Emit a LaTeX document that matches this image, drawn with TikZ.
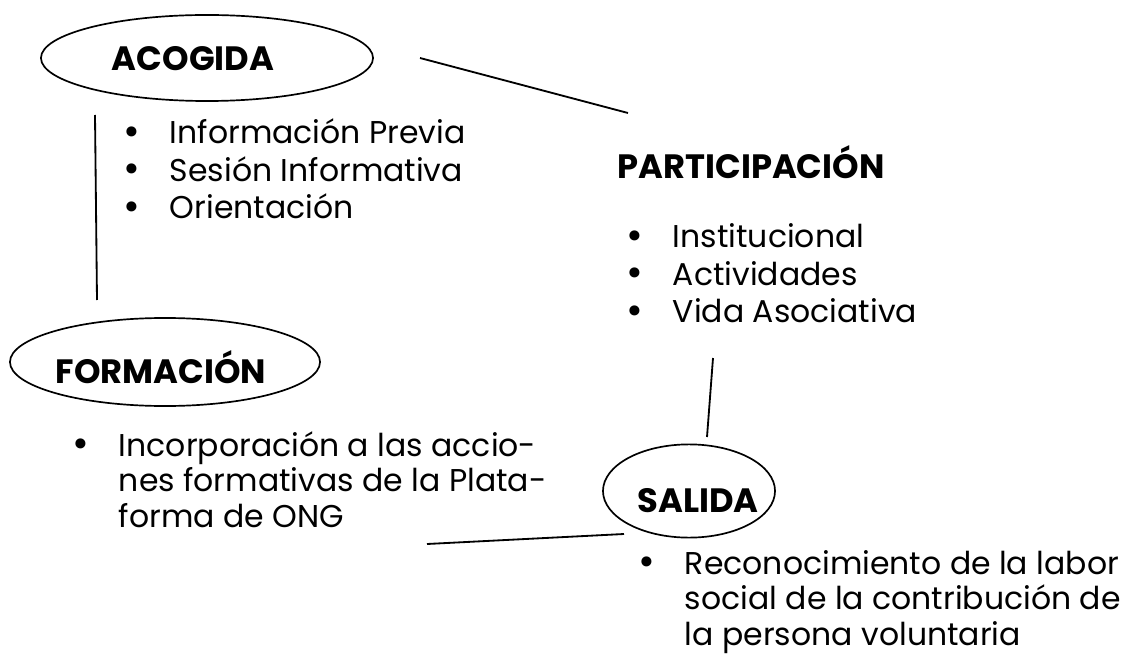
\documentclass[tikz,border=0pt]{standalone}
\usepackage{fontspec}
\setmainfont{Poppins}
\usetikzlibrary{shapes.geometric}

\newcommand{\itemrow}{\makebox[1.15cm][l]{\raisebox{-0.1ex}[0pt][0pt]{\fontsize{29}{0}\selectfont •}}}

\begin{document}
\begin{tikzpicture}[x=0.025cm, y=-0.025cm, line width=1.3pt,
                    stage node/.style={ellipse,draw,line width=1.2pt,inner sep=0pt},
                    title node/.style={font=\bfseries\fontsize{24}{28}\selectfont,inner sep=0pt},
                    list node/.style={anchor=base west,inner sep=0pt,font=\fontsize{22.4}{26.5}\selectfont}]

  \useasboundingbox (0,0) rectangle (1122,669);

  \node[stage node,minimum width=8.3cm,minimum height=2.15cm] (acogida) at (207,58) {};
  \node[title node] (acogidaT) at (193,59) {ACOGIDA};
  \node[list node] (acogidaL) at (123,144) {\begin{tabular}[t]{@{}l@{}}
    \itemrow Información Previa\\
    \itemrow Sesión Informativa\\
    \itemrow Orientación
  \end{tabular}};

  \node[title node] (partT) at (751,162) {PARTICIPACIÓN};
  \node[list node] (partL) at (626,248) {\begin{tabular}[t]{@{}l@{}}
    \itemrow Institucional\\
    \itemrow Actividades\\
    \itemrow Vida Asociativa
  \end{tabular}};

  \node[stage node,minimum width=7.75cm,minimum height=2.2cm] (formacion) at (165,362) {};
  \node[title node] (formacionT) at (161,367) {FORMACIÓN};
  \node[list node,font=\fontsize{22.4}{25.5}\selectfont] (formacionL) at (72,456) {\begin{tabular}[t]{@{}l@{}}
    \itemrow Incorporación a las accio-\\
    \hspace*{1.15cm}nes formativas de la Plata-\\
    \hspace*{1.15cm}forma de ONG
  \end{tabular}};

  \node[stage node,minimum width=4.3cm,minimum height=2.33cm] (salida) at (689,491) {};
  \node[title node] (salidaT) at (698,501) {SALIDA};
  \node[list node,font=\fontsize{22.4}{25.5}\selectfont] (salidaL) at (638,574) {\begin{tabular}[t]{@{}l@{}}
    \itemrow Reconocimiento de la labor\\
    \hspace*{1.15cm}social de la contribución de\\
    \hspace*{1.15cm}la persona voluntaria
  \end{tabular}};

  \coordinate (a1) at (420,58);
  \coordinate (a2) at (628,113);
  \coordinate (b1) at (95,115);
  \coordinate (b2) at (97,300);
  \coordinate (c1) at (713,358);
  \coordinate (c2) at (707,437);
  \coordinate (d1) at (427,544);
  \coordinate (d2) at (624,534);

  \draw (a1) -- (a2);
  \draw (b1) -- (b2);
  \draw (c1) -- (c2);
  \draw (d1) -- (d2);

\end{tikzpicture}
\end{document}
